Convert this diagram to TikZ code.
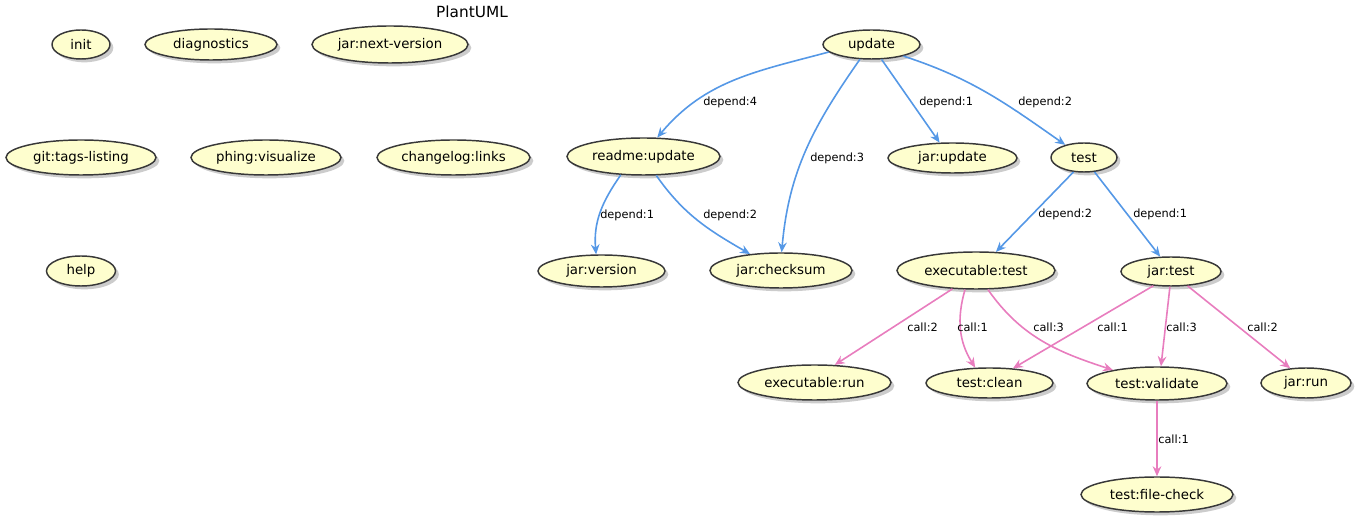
\documentclass[tikz,border=0pt]{standalone}
\usepackage{fontspec}
\setmainfont{DejaVu Sans}
\usetikzlibrary{shapes.geometric,arrows.meta,shadows}
\newlength{\px}
\setlength{\px}{0.75pt}
\definecolor{ucfill}{HTML}{FEFECE}
\definecolor{ucline}{HTML}{383838}
\definecolor{depblue}{RGB}{85,152,230}
\definecolor{callpink}{RGB}{232,125,190}

\begin{document}
\begin{tikzpicture}[x=0.75pt,y=-0.75pt,
    task node/.style={ellipse,draw=ucline,fill=ucfill,line width=1.1pt,inner sep=0pt,
      font=\fontsize{10}{12}\selectfont,
      drop shadow={shadow xshift=2.5pt,shadow yshift=-2.5pt,fill=black,opacity=0.2}},
    dep edge/.style={draw=depblue,line width=1.2pt,-{Stealth[length=7.5pt,width=6.5pt,inset=2.5pt]}},
    call edge/.style={draw=callpink,line width=1.2pt,-{Stealth[length=7.5pt,width=6.5pt,inset=2.5pt]}},
    edge label/.style={anchor=west,inner sep=0pt,font=\fontsize{8.5}{10}\selectfont}]
    \useasboundingbox (0,0) rectangle (1361,523);
    \node[font=\fontsize{11.5}{13}\selectfont] (title) at (472,12) {PlantUML};

    \node[task node,minimum width=58\px,minimum height=29\px] (init) at (81,44.5) {init};
    \node[task node,minimum width=132\px,minimum height=31\px] (diag) at (211,44.5) {diagnostics};
    \node[task node,minimum width=156\px,minimum height=37\px] (nextver) at (390,44.5) {jar:next-version};
    \node[task node,minimum width=150\px,minimum height=35\px] (tags) at (81,157.5) {git:tags-listing};
    \node[task node,minimum width=150\px,minimum height=35\px] (visual) at (266,157.5) {phing:visualize};
    \node[task node,minimum width=153\px,minimum height=35\px] (links) at (453.5,157.5) {changelog:links};
    \node[task node,minimum width=69\px,minimum height=30\px] (help) at (81,271) {help};

    \node[task node,minimum width=97\px,minimum height=29\px] (update) at (871.5,44.5) {update};
    \node[task node,minimum width=153\px,minimum height=37\px] (readme) at (643.5,156.5) {readme:update};
    \node[task node,minimum width=129\px,minimum height=30\px] (jarupd) at (952.5,158) {jar:update};
    \node[task node,minimum width=66\px,minimum height=29\px] (test) at (1084,157.5) {test};
    \node[task node,minimum width=127\px,minimum height=32\px] (jarver) at (601.5,271) {jar:version};
    \node[task node,minimum width=142\px,minimum height=35\px] (checksum) at (781,270.5) {jar:checksum};
    \node[task node,minimum width=158\px,minimum height=37\px] (exectest) at (976,270.5) {executable:test};
    \node[task node,minimum width=100\px,minimum height=29\px] (jartest) at (1171,271.5) {jar:test};
    \node[task node,minimum width=153\px,minimum height=35\px] (execrun) at (814.5,382.5) {executable:run};
    \node[task node,minimum width=127\px,minimum height=30\px] (clean) at (989.5,383) {test:clean};
    \node[task node,minimum width=140\px,minimum height=33\px] (valid) at (1157,383.5) {test:validate};
    \node[task node,minimum width=90\px,minimum height=30\px] (jarrun) at (1306,383) {jar:run};
    \node[task node,minimum width=152\px,minimum height=35\px] (fcheck) at (1157,494.5) {test:file-check};

    \path[every edge/.append style={dep edge}]
    (update.190) edge[out=195,in=50] (readme.54)
    (update.-128) edge[out=-125,in=85] (checksum.88)
    (update.-56) edge (jarupd.130)
    (update.-20) edge[out=-18,in=145] (test.146)
    (readme.-141) edge[out=-125,in=95] (jarver.108)
    (readme.-56) edge[out=-55,in=150] (checksum.152)
    (test.-126) edge (exectest.43)
    (test.-54) edge (jartest.126);

    \path[every edge/.append style={call edge}]
    (exectest.218) edge (execrun.41)
    (exectest.240) edge[out=-106,in=122] (clean.133)
    (exectest.-58) edge[out=-55,in=162] (valid.163)
    (jartest.219) edge (clean.32)
    (jartest.-94) edge (valid.77)
    (jartest.-41) edge (jarrun.137)
    (valid.-90) edge (fcheck.90);

    \node[edge label] (l1) at (703,102) {depend:4};
    \node[edge label] (l2) at (810,158) {depend:3};
    \node[edge label] (l3) at (919,102) {depend:1};
    \node[edge label] (l4) at (1018,102) {depend:2};
    \node[edge label] (l5) at (600,215) {depend:1};
    \node[edge label] (l6) at (703,215) {depend:2};
    \node[edge label] (l7) at (1038,214) {depend:2};
    \node[edge label] (l8) at (1133,214) {depend:1};
    \node[edge label] (l9) at (907,327) {call:2};
    \node[edge label] (l10) at (957,327) {call:1};
    \node[edge label] (l11) at (1033,327) {call:3};
    \node[edge label] (l12) at (1097,327) {call:1};
    \node[edge label] (l13) at (1166,327) {call:3};
    \node[edge label] (l14) at (1247,327) {call:2};
    \node[edge label] (l15) at (1158,439) {call:1};
\end{tikzpicture}
\end{document}
